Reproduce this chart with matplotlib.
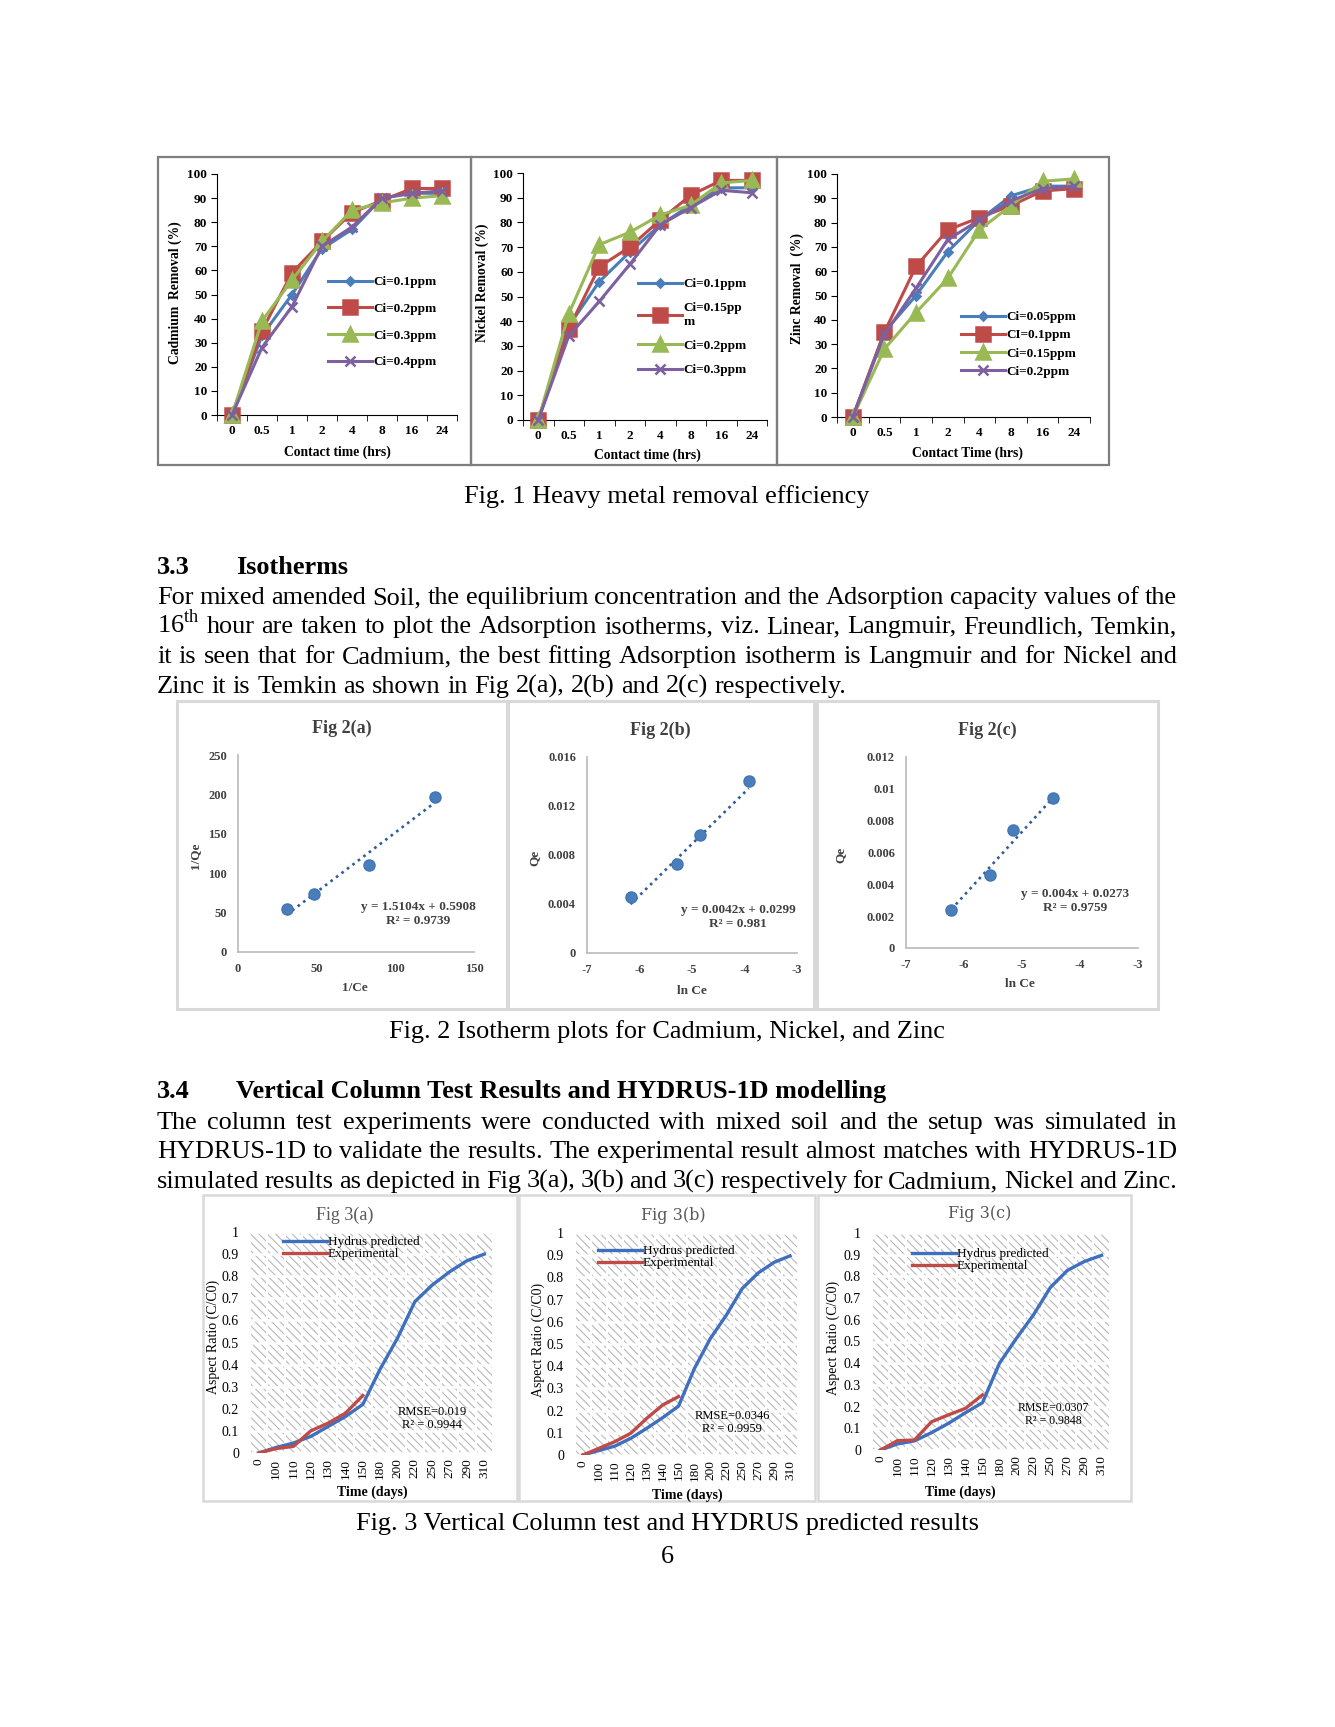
import numpy as np
import matplotlib
matplotlib.use('Agg')
import matplotlib.pyplot as plt
from matplotlib.patches import Rectangle

plt.rcParams['font.family'] = ['Liberation Serif', 'DejaVu Serif']
plt.rcParams['mathtext.fontset'] = 'custom'
plt.rcParams['mathtext.rm'] = 'Liberation Serif'
plt.rcParams['hatch.linewidth'] = 0.8
plt.rcParams['axes.unicode_minus'] = False

# ---- Fig 1: removal efficiency ----
time_labels = ['0', '0.5', '1', '2', '4', '8', '16', '24']

cd_labels = ['Ci=0.1ppm', 'Ci=0.2ppm', 'Ci=0.3ppm', 'Ci=0.4ppm']
cd_01 = [0, 33, 50, 69, 77, 90, 92, 92]
cd_02 = [0, 35, 59, 72, 84, 89, 94, 94]
cd_03 = [0, 39, 56, 72, 85, 88, 90, 91]
cd_04 = [0, 28, 45, 70, 78, 90, 92, 93]

ni_labels = ['Ci=0.1ppm', 'Ci=0.15pp\nm', 'Ci=0.2ppm', 'Ci=0.3ppm']
ni_01 = [0, 38, 56, 68, 79, 87, 94, 94]
ni_015 = [0, 37, 62, 70, 81, 91, 97, 97]
ni_02 = [0, 43, 71, 76, 83, 87, 96, 97]
ni_03 = [0, 34, 48, 63, 79, 86, 93, 92]

zn_labels = ['Ci=0.05ppm', 'CI=0.1ppm', 'Ci=0.15ppm', 'Ci=0.2ppm']
zn_005 = [0, 35, 50, 68, 81, 91, 95, 95]
zn_01 = [0, 35, 62, 77, 82, 87, 93, 94]
zn_015 = [0, 28, 43, 57, 77, 87, 97, 98]
zn_02 = [0, 34, 53, 73, 81, 89, 94, 95]

# ---- Fig 2: isotherms ----
iso_a_x = [31, 48, 83, 125]
iso_a_y = [54, 73, 110, 197]
iso_b_x = [-6.17, -5.29, -4.84, -3.92]
iso_b_y = [0.0046, 0.0073, 0.0096, 0.0140]
iso_c_x = [-6.22, -5.56, -5.15, -4.46]
iso_c_y = [0.0024, 0.0046, 0.0074, 0.0094]

# ---- Fig 3: column test ----
days = ['0', '100', '110', '120', '130', '140', '150', '180', '200', '220',
        '250', '270', '290', '310']
a_hyd = [0, 0.025, 0.045, 0.075, 0.12, 0.165, 0.22, 0.38, 0.52, 0.685, 0.76, 0.82, 0.87, 0.9]
a_exp = [0, 0.02, 0.03, 0.10, 0.135, 0.18, 0.26]
b_hyd = [0, 0.02, 0.04, 0.075, 0.12, 0.168, 0.22, 0.39, 0.525, 0.63, 0.75, 0.82, 0.868, 0.897]
b_exp = [0, 0.03, 0.06, 0.098, 0.165, 0.225, 0.263]
c_hyd = [0, 0.028, 0.042, 0.08, 0.123, 0.172, 0.218, 0.40, 0.515, 0.623, 0.75, 0.828, 0.869, 0.897]
c_exp = [0, 0.043, 0.046, 0.13, 0.162, 0.192, 0.254]

W, H = 1335, 1727
fig = plt.figure(figsize=(W / 100, H / 100), dpi=100)
fig.patch.set_facecolor('white')

BLUE, RED, GREEN, PURPLE = '#4a7ebb', '#be4b48', '#98b954', '#7d60a0'


def rect(x0, y0, x1, y1):
    return [x0 / W, 1 - y1 / H, (x1 - x0) / W, (y1 - y0) / H]


def ftext(x, y, s, **kw):
    return fig.text(x / W, 1 - y / H, s, **kw)


def box(x0, y0, x1, y1, color, lw):
    fig.add_artist(Rectangle((x0 / W, 1 - y1 / H), (x1 - x0) / W, (y1 - y0) / H,
                             transform=fig.transFigure, fill=False,
                             edgecolor=color, lw=lw))


# ---------------- Fig 1 ----------------
def removal_panel(px, series, labels, leg_xy, spacing):
    ax = fig.add_axes(rect(*px))
    x = np.arange(len(time_labels))
    styles = [(BLUE, 'D', 4.5), (RED, 's', 10.5), (GREEN, '^', 9.5), (PURPLE, 'x', 7)]
    for ys, lab, (c, m, ms) in zip(series, labels, styles):
        ax.plot(x, ys, color=c, marker=m, ms=ms, mew=1.8, lw=2.2, label=lab,
                clip_on=False, zorder=3)
    ax.set_xlim(-0.5, 7.5)
    ax.set_ylim(0, 100)
    ax.set_yticks(range(0, 101, 10))
    ax.set_xticks(x, time_labels)
    ax.set_xticks(np.arange(-0.5, 8, 1), minor=True)
    ax.tick_params(axis='x', which='major', length=0, pad=7, labelsize=9.5)
    ax.tick_params(axis='x', which='minor', length=4, direction='out')
    ax.tick_params(axis='y', length=4, direction='out', pad=3, labelsize=9.5)
    for lab in ax.get_xticklabels() + ax.get_yticklabels():
        lab.set_fontweight('bold')
    for s in ['top', 'right']:
        ax.spines[s].set_visible(False)
    ax.legend(loc='upper left', bbox_to_anchor=(leg_xy[0] / W, 1 - leg_xy[1] / H),
              bbox_transform=fig.transFigure, frameon=False,
              prop={'weight': 'bold', 'size': 9.5}, handlelength=3.3,
              handletextpad=0.15, labelspacing=spacing, borderpad=0, borderaxespad=0)
    return ax


box(158, 157, 471, 465, '#7f7f7f', 1.6)
box(471, 157, 777, 465, '#7f7f7f', 1.6)
box(777, 157, 1109, 465, '#7f7f7f', 1.6)

removal_panel((217, 174, 457, 415), [cd_01, cd_02, cd_03, cd_04], cd_labels, (328, 276), 1.1)
removal_panel((523, 173, 767, 420), [ni_01, ni_015, ni_02, ni_03], ni_labels, (638, 278), 0.9)
removal_panel((837, 174, 1090, 417), [zn_005, zn_01, zn_015, zn_02], zn_labels, (961, 311), 0.45)

lbl = dict(fontsize=9.8, fontweight='bold', ha='center', va='center')
ftext(175, 293, 'Cadmium  Removal (%)', rotation=90, **lbl)
ftext(482, 283, 'Nickel Removal (%)', rotation=90, **lbl)
ftext(797, 288, 'Zinc Removal  (%)', rotation=90, **lbl)
ftext(337, 452, 'Contact time (hrs)', **lbl)
ftext(647, 455, 'Contact time (hrs)', **lbl)
ftext(967, 453, 'Contact Time (hrs)', **lbl)

# ---------------- Fig 2 ----------------
def iso_panel(px, xs, ys, slope, icpt, xlim, xticks, ylim, yticks, ylabels):
    ax = fig.add_axes(rect(*px))
    tx = np.array([min(xs), max(xs)])
    ax.plot(tx, slope * tx + icpt, ls=(0, (1, 1.6)), color='#2f5b97', lw=1.9, zorder=2)
    ax.plot(xs, ys, 'o', ms=8, color='#4a7ebb', mec='#4275b5', zorder=3, clip_on=False)
    ax.set_xlim(*xlim)
    ax.set_ylim(*ylim)
    ax.set_xticks(xticks)
    ax.set_yticks(yticks, ylabels)
    ax.tick_params(length=0, labelsize=9, labelcolor='#404040', pad=8)
    for lab in ax.get_xticklabels() + ax.get_yticklabels():
        lab.set_fontweight('bold')
    for s in ['top', 'right']:
        ax.spines[s].set_visible(False)
    for s in ['left', 'bottom']:
        ax.spines[s].set_color('#bfbfbf')
        ax.spines[s].set_linewidth(1.3)
    return ax


box(177, 701, 507, 1009, '#d9d9d9', 2.2)
box(508, 701, 814, 1009, '#d9d9d9', 2.2)
box(817, 701, 1158, 1009, '#d9d9d9', 2.2)

iso_panel((238, 755, 474, 952), iso_a_x, iso_a_y, 1.5104, 0.5908, (0, 150),
          [0, 50, 100, 150], (0, 250), [0, 50, 100, 150, 200, 250],
          ['0', '50', '100', '150', '200', '250'])
iso_panel((587, 757, 797, 953), iso_b_x, iso_b_y, 0.0042, 0.0299, (-7, -3),
          [-7, -6, -5, -4, -3], (0, 0.016), [0, 0.004, 0.008, 0.012, 0.016],
          ['0', '0.004', '0.008', '0.012', '0.016'])
iso_panel((906, 757, 1138, 948), iso_c_x, iso_c_y, 0.004, 0.0273, (-7, -3),
          [-7, -6, -5, -4, -3], (0, 0.012), [0, 0.002, 0.004, 0.006, 0.008, 0.01, 0.012],
          ['0', '0.002', '0.004', '0.006', '0.008', '0.01', '0.012'])

t2 = dict(fontsize=13, fontweight='bold', color='#404040', ha='center', va='center')
ftext(342, 728, 'Fig 2(a)', **t2)
ftext(660, 730, 'Fig 2(b)', **t2)
ftext(987, 730, 'Fig 2(c)', **t2)
l2 = dict(fontsize=9.5, fontweight='bold', color='#404040', ha='center', va='center')
ftext(355, 988, '1/Ce', **l2)
ftext(692, 991, 'ln Ce', **l2)
ftext(1020, 984, 'ln Ce', **l2)
ftext(195, 856, '1/Qe', rotation=90, **l2)
ftext(535, 858, 'Qe', rotation=90, **l2)
ftext(840, 855, 'Qe', rotation=90, **l2)
ftext(418, 907, 'y = 1.5104x + 0.5908', **l2)
ftext(418, 921, 'R² = 0.9739', **l2)
ftext(738, 910, 'y = 0.0042x + 0.0299', **l2)
ftext(738, 924, 'R² = 0.981', **l2)
ftext(1075, 894, 'y = 0.004x + 0.0273', **l2)
ftext(1075, 908, 'R² = 0.9759', **l2)

# ---------------- Fig 3 ----------------
def column_panel(px, hyd, exp, leg_xy):
    ax = fig.add_axes(rect(*px))
    ax.add_patch(Rectangle((0, 0), 1, 1, transform=ax.transAxes, fill=False,
                           hatch='\\\\\\\\', edgecolor='#b8b8b8', lw=0, zorder=0))
    x = np.arange(len(days))
    ax.plot(x, hyd, color='#3f6fbf', lw=2.4, label='Hydrus predicted', zorder=3)
    ax.plot(x[:len(exp)], exp, color='#be4b48', lw=2.4, label='Experimental', zorder=3)
    ax.set_xlim(-0.5, len(days) - 0.5)
    ax.set_ylim(0, 1)
    ax.set_yticks(np.arange(0, 1.01, 0.1), ['0', '0.1', '0.2', '0.3', '0.4', '0.5',
                                             '0.6', '0.7', '0.8', '0.9', '1'])
    ax.set_xticks(x, days, rotation=90)
    ax.set_axisbelow(True)
    ax.grid(axis='y', color='white', lw=1.8)
    ax.set_xticks(np.arange(-0.5, len(days), 1), minor=True)
    ax.grid(axis='x', which='minor', color='white', lw=1.4)
    ax.tick_params(which='both', length=0)
    ax.tick_params(axis='y', labelsize=10, pad=8)
    ax.tick_params(axis='x', labelsize=9.5, pad=4)
    for s in ax.spines.values():
        s.set_visible(False)
    ax.legend(loc='upper left', bbox_to_anchor=(leg_xy[0] / W, 1 - leg_xy[1] / H),
              bbox_transform=fig.transFigure, frameon=False, fontsize=9.5,
              handlelength=3.3, handletextpad=0.1, labelspacing=0.0,
              borderpad=0, borderaxespad=0)
    return ax


box(203, 1195, 517, 1501, '#d9d9d9', 1.8)
box(519, 1195, 815, 1501, '#d9d9d9', 1.8)
box(818, 1195, 1131, 1501, '#d9d9d9', 1.8)

column_panel((250, 1232, 493, 1453), a_hyd, a_exp, (283, 1236))
column_panel((575, 1233, 798, 1455), b_hyd, b_exp, (598, 1245))
column_panel((872, 1233, 1110, 1450), c_hyd, c_exp, (912, 1248))

ftext(345, 1215, 'Fig 3(a)', fontsize=13, color='#595959', ha='center', va='center')
ftext(673, 1215, 'Fig 3(b)', fontsize=11.5, color='#595959', ha='center', va='center',
      family='DejaVu Serif')
ftext(980, 1214, 'Fig 3(c)', fontsize=11.5, color='#595959', ha='center', va='center',
      family='DejaVu Serif')
for xx, yy in [(213, 1337), (538, 1340), (833, 1338)]:
    ftext(xx, yy, 'Aspect Ratio (C/C0)', fontsize=10, rotation=90, ha='center', va='center')
for xx, yy in [(372, 1492), (687, 1495), (960, 1492)]:
    ftext(xx, yy, 'Time (days)', fontsize=10, fontweight='bold', ha='center', va='center')
r3 = dict(fontsize=9, ha='center', va='center')
ftext(432, 1412, 'RMSE=0.019', **r3)
ftext(432, 1425, 'R² = 0.9944', **r3)
ftext(732, 1416, 'RMSE=0.0346', **r3)
ftext(732, 1429, 'R² = 0.9959', **r3)
ftext(1053, 1408, 'RMSE=0.0307', fontsize=8.5, ha='center', va='center')
ftext(1053, 1421, 'R² = 0.9848', fontsize=8.5, ha='center', va='center')

# ---------------- page text ----------------
BODY = 18.9
X0, X1 = 157, 1177
renderer = fig.canvas.get_renderer()


def para_line(text, y, justify=True):
    words = text.split(' ')
    arts = [ftext(0, y, w, fontsize=BODY, va='baseline') for w in words]
    ws = [a.get_window_extent(renderer).width for a in arts]
    if justify and len(words) > 1:
        gap = (X1 - X0 - sum(ws)) / (len(words) - 1)
    else:
        gap = BODY * 100 / 72 * 0.25
    x = X0
    for a, w in zip(arts, ws):
        a.set_x(x / W)
        x += w + gap


cap = dict(fontsize=BODY, ha='center', va='baseline')
ftext(667, 503, 'Fig. 1 Heavy metal removal efficiency', **cap)
ftext(157, 574, '3.3', fontsize=BODY, fontweight='bold', va='baseline')
ftext(236, 574, 'Isotherms', fontsize=BODY, fontweight='bold', va='baseline')
para_line('For mixed amended Soil, the equilibrium concentration and the Adsorption capacity values of the', 604)
para_line('16$^{\\mathrm{th}}$ hour are taken to plot the Adsorption isotherms, viz. Linear, Langmuir, Freundlich, Temkin,', 633)
para_line('it is seen that for Cadmium, the best fitting Adsorption isotherm is Langmuir and for Nickel and', 663)
para_line('Zinc it is Temkin as shown in Fig 2(a), 2(b) and 2(c) respectively.', 693, justify=False)
ftext(667, 1038, 'Fig. 2 Isotherm plots for Cadmium, Nickel, and Zinc', **cap)
ftext(157, 1098, '3.4', fontsize=BODY, fontweight='bold', va='baseline')
ftext(236, 1098, 'Vertical Column Test Results and HYDRUS-1D modelling', fontsize=BODY,
      fontweight='bold', va='baseline')
para_line('The column test experiments were conducted with mixed soil and the setup was simulated in', 1129)
para_line('HYDRUS-1D to validate the results. The experimental result almost matches with HYDRUS-1D', 1158)
para_line('simulated results as depicted in Fig 3(a), 3(b) and 3(c) respectively for Cadmium, Nickel and Zinc.', 1188)
ftext(667, 1530, 'Fig. 3 Vertical Column test and HYDRUS predicted results', **cap)
ftext(667, 1563, '6', **cap)

fig.savefig('out.png', dpi=100, facecolor='white')
